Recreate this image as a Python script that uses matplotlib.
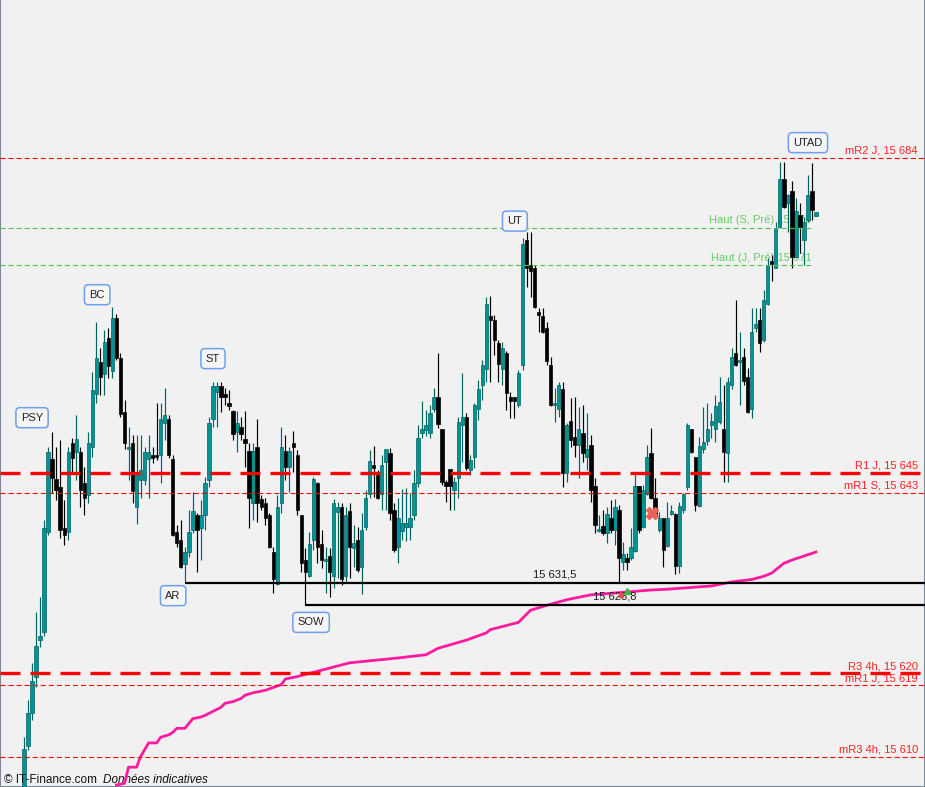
import matplotlib
matplotlib.use("Agg")
import matplotlib.pyplot as plt
import matplotlib.transforms as mtransforms
import numpy as np

# Bougies (OHLC), une par période, de gauche à droite
opens = [
    15604.7, 15611.3, 15615.4, 15619.8, 15624.4, 15625.4, 15637.8, 15646.8, 15644.3, 15643.3,
    15638.3, 15637.8, 15648.8, 15647.7, 15647.7, 15643.8, 15642.3, 15648.3, 15654.8, 15658.8,
    15657.3, 15661.8, 15657.7, 15664.2, 15659.3, 15652.6, 15648.0, 15648.8, 15640.9, 15644.2,
    15644.2, 15646.8, 15647.3, 15647.3, 15647.3, 15651.2, 15651.7, 15646.8, 15637.8, 15636.8,
    15633.8, 15635.3, 15638.0, 15639.9, 15638.3, 15639.9, 15644.2, 15651.7, 15655.1, 15655.8,
    15654.8, 15653.7, 15652.7, 15650.1, 15650.8, 15649.3, 15647.8, 15641.4, 15648.3, 15641.9,
    15641.4, 15639.9, 15635.3, 15631.3, 15641.4, 15647.8, 15645.8, 15648.8, 15647.3, 15639.9,
    15634.3, 15632.3, 15636.8, 15643.8, 15636.3, 15634.2, 15634.8, 15632.3, 15640.2, 15640.9,
    15632.3, 15640.4, 15635.8, 15636.8, 15633.4, 15638.4, 15642.5, 15646.0, 15644.8, 15642.5,
    15646.4, 15647.5, 15640.5, 15635.9, 15637.9, 15638.4, 15638.4, 15639.9, 15643.8, 15650.0,
    15650.4, 15650.0, 15653.0, 15654.5, 15650.5, 15644.0, 15645.6, 15643.0, 15644.4, 15651.0,
    15652.0, 15645.4, 15647.0, 15653.0, 15655.9, 15657.9, 15664.5, 15664.0, 15661.1, 15657.9,
    15659.9, 15654.5, 15654.4, 15653.5, 15658.4, 15673.9, 15670.8, 15670.4, 15665.0, 15664.5,
    15663.0, 15658.4, 15653.5, 15653.0, 15655.4, 15645.1, 15651.5, 15649.5, 15648.5, 15650.0,
    15647.0, 15648.5, 15643.5, 15637.9, 15638.5, 15637.6, 15639.5, 15638.0, 15640.5, 15634.1,
    15634.6, 15634.6, 15635.4, 15643.5, 15638.4, 15642.5, 15647.5, 15642.0, 15638.0, 15639.5,
    15636.0, 15640.0, 15640.0, 15633.6, 15640.5, 15643.3, 15650.5, 15647.0, 15641.0, 15648.0,
    15649.0, 15651.0, 15650.5, 15651.4, 15650.5, 15647.5, 15655.9, 15659.9, 15658.8, 15659.4,
    15656.9, 15653.0, 15663.0, 15664.0, 15661.5, 15665.9, 15671.3, 15670.4, 15675.5, 15681.4,
    15678.4, 15679.9, 15671.8, 15676.9, 15673.9, 15676.3, 15679.9, 15676.8]
highs = [
    15612.4, 15617.0, 15621.6, 15627.9, 15629.7, 15639.3, 15648.3, 15650.1, 15648.3, 15649.1,
    15641.7, 15648.3, 15649.4, 15652.2, 15648.3, 15645.8, 15650.1, 15657.6, 15663.7, 15660.5,
    15662.7, 15663.0, 15665.6, 15664.7, 15659.9, 15654.1, 15650.8, 15649.8, 15649.8, 15649.8,
    15648.3, 15649.8, 15648.3, 15653.7, 15653.7, 15655.6, 15652.2, 15647.3, 15638.6, 15639.3,
    15635.9, 15640.5, 15642.7, 15640.1, 15641.7, 15644.6, 15652.0, 15656.3, 15656.3, 15656.3,
    15655.6, 15655.3, 15652.9, 15652.7, 15652.0, 15652.7, 15648.8, 15648.8, 15651.7, 15642.3,
    15642.0, 15640.1, 15635.9, 15642.3, 15650.8, 15649.8, 15648.3, 15650.3, 15647.9, 15639.9,
    15635.8, 15637.8, 15644.6, 15643.9, 15638.0, 15635.9, 15635.8, 15641.9, 15641.5, 15641.4,
    15640.9, 15641.4, 15638.6, 15638.4, 15640.1, 15643.0, 15647.9, 15648.4, 15645.4, 15647.3,
    15648.0, 15648.2, 15641.4, 15642.0, 15643.1, 15643.2, 15642.6, 15645.4, 15651.0, 15654.0,
    15652.9, 15653.5, 15655.6, 15659.9, 15650.5, 15644.2, 15645.6, 15644.6, 15652.0, 15657.4,
    15652.5, 15647.3, 15653.7, 15656.6, 15659.0, 15666.8, 15666.9, 15664.6, 15661.5, 15661.2,
    15660.1, 15655.1, 15654.5, 15657.8, 15674.1, 15674.9, 15674.9, 15670.8, 15665.5, 15665.5,
    15663.7, 15659.4, 15655.6, 15656.3, 15656.3, 15651.2, 15654.3, 15654.5, 15653.2, 15653.5,
    15652.5, 15649.8, 15644.4, 15639.9, 15640.5, 15640.9, 15641.7, 15641.9, 15641.1, 15636.5,
    15635.2, 15638.3, 15645.1, 15643.5, 15643.6, 15648.5, 15650.6, 15644.4, 15640.2, 15639.5,
    15641.5, 15641.1, 15640.1, 15641.5, 15642.6, 15651.2, 15650.5, 15647.0, 15649.5, 15653.2,
    15653.7, 15652.5, 15654.7, 15656.9, 15655.9, 15656.9, 15660.5, 15666.4, 15662.5, 15660.5,
    15658.0, 15665.5, 15665.5, 15665.5, 15667.7, 15671.6, 15672.0, 15676.1, 15683.5, 15683.5,
    15679.5, 15681.2, 15679.0, 15678.4, 15676.7, 15681.9, 15683.4, 15677.3]
lows = [
    15604.0, 15610.8, 15614.5, 15618.6, 15623.6, 15624.9, 15637.4, 15642.6, 15641.7, 15637.0,
    15636.2, 15636.8, 15645.1, 15644.2, 15640.9, 15639.9, 15641.4, 15647.0, 15653.7, 15654.7,
    15654.7, 15656.8, 15656.8, 15659.0, 15652.0, 15648.0, 15644.2, 15641.4, 15638.8, 15642.0,
    15643.6, 15642.0, 15646.3, 15646.7, 15643.8, 15649.1, 15646.9, 15637.3, 15635.9, 15633.3,
    15631.5, 15634.7, 15637.6, 15632.8, 15634.3, 15638.0, 15643.3, 15650.8, 15650.8, 15652.6,
    15653.5, 15652.9, 15649.1, 15647.7, 15649.1, 15645.8, 15638.3, 15639.3, 15639.0, 15640.5,
    15638.6, 15635.8, 15630.2, 15631.2, 15640.1, 15644.2, 15642.7, 15645.2, 15639.9, 15632.8,
    15628.8, 15632.2, 15635.5, 15633.9, 15633.3, 15630.2, 15629.7, 15630.9, 15632.1, 15631.2,
    15631.5, 15632.1, 15633.4, 15632.8, 15630.1, 15638.0, 15642.0, 15642.1, 15641.9, 15640.5,
    15640.5, 15639.3, 15635.3, 15633.9, 15636.8, 15636.7, 15636.8, 15639.3, 15643.3, 15649.4,
    15649.6, 15649.4, 15652.6, 15650.6, 15643.6, 15641.5, 15640.5, 15640.5, 15642.0, 15646.4,
    15645.4, 15644.8, 15645.7, 15651.6, 15654.1, 15656.3, 15656.3, 15659.6, 15656.3, 15655.9,
    15652.9, 15651.9, 15651.9, 15653.2, 15657.8, 15668.1, 15666.8, 15665.5, 15662.5, 15662.4,
    15658.4, 15653.3, 15651.4, 15652.0, 15643.3, 15644.0, 15648.3, 15647.0, 15644.4, 15646.4,
    15645.4, 15641.5, 15637.6, 15637.8, 15637.4, 15636.4, 15637.6, 15636.2, 15631.6, 15633.1,
    15633.1, 15634.3, 15635.3, 15637.6, 15638.3, 15642.3, 15641.9, 15639.5, 15637.8, 15633.4,
    15635.9, 15639.9, 15632.6, 15632.7, 15640.1, 15643.0, 15647.5, 15640.4, 15640.9, 15647.5,
    15648.5, 15649.4, 15648.9, 15651.1, 15644.0, 15644.0, 15655.4, 15658.3, 15653.5, 15655.9,
    15652.5, 15651.9, 15662.5, 15660.0, 15661.3, 15665.8, 15668.8, 15670.4, 15675.3, 15677.8,
    15674.9, 15670.4, 15671.6, 15672.3, 15670.8, 15676.1, 15676.3, 15676.8]
closes = [
    15611.0, 15615.4, 15619.4, 15623.7, 15624.9, 15638.3, 15647.7, 15644.4, 15643.0, 15638.0,
    15637.4, 15647.7, 15646.9, 15649.3, 15643.0, 15642.0, 15648.8, 15655.3, 15659.3, 15656.9,
    15661.3, 15658.3, 15664.2, 15659.3, 15652.4, 15648.8, 15648.3, 15642.8, 15645.2, 15645.4,
    15647.7, 15647.7, 15646.9, 15647.0, 15651.7, 15652.2, 15647.3, 15637.4, 15636.4, 15633.4,
    15635.3, 15637.8, 15640.4, 15638.0, 15639.9, 15643.8, 15651.2, 15655.8, 15655.8, 15654.5,
    15654.5, 15653.3, 15649.9, 15651.2, 15649.9, 15648.8, 15642.0, 15647.8, 15641.4, 15640.9,
    15639.5, 15635.9, 15632.0, 15640.9, 15648.3, 15645.8, 15647.8, 15648.3, 15640.5, 15633.9,
    15632.8, 15636.3, 15644.3, 15635.9, 15634.3, 15634.3, 15632.8, 15641.4, 15640.9, 15632.0,
    15639.9, 15635.9, 15636.4, 15633.1, 15638.0, 15642.0, 15646.5, 15645.7, 15642.0, 15646.0,
    15648.0, 15640.1, 15635.5, 15639.5, 15638.9, 15638.9, 15639.5, 15643.8, 15649.4, 15650.5,
    15651.0, 15652.5, 15654.5, 15651.1, 15644.0, 15643.5, 15643.5, 15644.0, 15651.4, 15652.0,
    15645.7, 15646.7, 15653.5, 15655.4, 15658.4, 15665.9, 15664.0, 15661.5, 15658.5, 15660.5,
    15654.9, 15654.0, 15654.0, 15657.4, 15673.4, 15670.4, 15670.0, 15665.6, 15664.6, 15662.5,
    15658.9, 15653.5, 15653.6, 15655.9, 15645.1, 15651.0, 15649.1, 15648.5, 15650.5, 15647.5,
    15648.0, 15643.0, 15638.6, 15638.1, 15637.6, 15640.0, 15638.0, 15640.9, 15634.6, 15635.1,
    15634.1, 15635.9, 15643.5, 15638.0, 15643.0, 15647.0, 15642.0, 15639.6, 15639.5, 15635.5,
    15639.5, 15640.4, 15633.6, 15641.0, 15642.5, 15651.0, 15647.7, 15641.1, 15648.4, 15648.9,
    15650.5, 15651.5, 15653.4, 15653.8, 15647.7, 15656.3, 15659.4, 15658.4, 15658.9, 15656.4,
    15652.6, 15662.5, 15663.5, 15661.1, 15666.4, 15670.8, 15670.9, 15675.3, 15681.4, 15677.9,
    15679.4, 15671.8, 15677.4, 15675.5, 15676.1, 15679.4, 15677.6, 15677.3]

# Moyenne mobile (rose) : position en bougies, valeur
ma_idx = [23, 25, 26, 28, 29, 31, 33, 34, 36, 37, 38, 40, 42, 44, 45, 47, 49, 50, 52, 54,
          55, 57, 60, 64, 65, 68, 71, 81, 93, 100, 103, 110, 115, 116, 123, 126, 130, 135, 141, 146,
          156, 160, 171, 176, 181, 184, 186, 189, 191, 197]
ma_val = [15606.5, 15606.7, 15608.7, 15608.7, 15610.0, 15611.7, 15611.7, 15612.4, 15612.7, 15613.0,
          15613.5, 15613.5, 15614.7, 15614.9, 15615.1, 15615.6, 15616.1, 15616.6, 15616.8, 15617.2,
          15617.6, 15617.9, 15618.2, 15618.9, 15619.6, 15619.9, 15620.3, 15621.6, 15622.2, 15622.6,
          15623.4, 15624.4, 15625.3, 15625.7, 15626.6, 15628.1, 15628.7, 15629.4, 15630.0, 15630.2,
          15630.6, 15630.7, 15631.1, 15631.6, 15631.9, 15632.3, 15632.7, 15633.9, 15634.3, 15635.3]

# Pivots
thick_levels = [15645.1, 15620.3]
thick_names = ["R1 J, 15 645", "R3 4h, 15 620"]
thin_levels = [15684.0, 15642.6, 15618.8, 15610.0]
thin_names = ["mR2 J, 15 684", "mR1 S, 15 643", "mR1 J, 15 619", "mR3 4h, 15 610"]
high_levels = [15675.4, 15670.8, 15606.0]
high_names = ["Haut (S, Pré) 15 676", "Haut (J, Pré) 15 671", "Haut (M, Pré) 15 606"]

# Niveaux tracés à la main (AR / SOW)
zone_levels = [15631.5, 15628.8]
zone_start = [40, 70]
zone_names = ["15 631,5", "15 628,8"]
zone_label_x = [132, 147]

# Étiquettes Wyckoff
wy_names = ["PSY", "BC", "ST", "AR", "SOW", "UT", "UTAD"]
wy_x = [2.0, 18.2, 47.0, 37.1, 71.4, 122.1, 195.0]
wy_y = [15651.9, 15667.1, 15659.2, 15629.9, 15626.6, 15676.2, 15685.9]

plt.rcParams["lines.scale_dashes"] = False
plt.rcParams["font.family"] = ["Liberation Sans", "DejaVu Sans"]

fig = plt.figure(figsize=(9.25, 7.87), dpi=100)
ax = fig.add_axes([0, 0, 1, 1])
ax.set_facecolor("#f1f1f1")
fig.patch.set_facecolor("#f1f1f1")

o = np.array(opens)
h = np.array(highs)
l = np.array(lows)
c = np.array(closes)
x = np.arange(len(o))
up = c >= o

teal = "#009393"
teal_dark = "#006464"

# Mèches
ax.vlines(x[up], l[up], h[up], colors=teal_dark, linewidth=0.85, zorder=2)
ax.vlines(x[~up], l[~up], h[~up], colors="black", linewidth=0.85, zorder=2)

# Corps
body_lo = np.minimum(o, c)
body_h = np.maximum(np.abs(c - o), 0.2)
ax.bar(x[up], body_h[up], bottom=body_lo[up], width=0.84, color=teal,
       edgecolor=teal_dark, linewidth=0.5, zorder=3)
ax.bar(x[~up], body_h[~up], bottom=body_lo[~up], width=0.84, color="black",
       edgecolor="black", linewidth=0.5, zorder=3)

# Moyenne mobile
ax.plot(ma_idx, ma_val, color="#ff1aa0", linewidth=2.0, zorder=4)

x_left = -24 / 4.02
x_right = 197 + 109 / 4.02
ax.set_xlim(x_left, x_right)
ax.set_ylim(15606.25, 15703.53)

blend = mtransforms.blended_transform_factory(ax.transAxes, ax.transData)

# Lignes rouges épaisses
for lev, name in zip(thick_levels, thick_names):
    ax.axhline(lev, color="#ff0000", linewidth=2.4, linestyle=(0, (14.4, 7.2)), zorder=5)
    ax.annotate(name, xy=(0.9924, lev), xycoords=blend, xytext=(0, 1.5),
                textcoords="offset points", ha="right", va="bottom",
                fontsize=8, color="#ff2020", zorder=6)

# Lignes rouges fines
for lev, name in zip(thin_levels, thin_names):
    ax.axhline(lev, color="#ff0000", linewidth=0.8, linestyle=(0, (3.6, 2.2)), zorder=5)
    ax.annotate(name, xy=(0.9924, lev), xycoords=blend, xytext=(0, 1.5),
                textcoords="offset points", ha="right", va="bottom",
                fontsize=8, color="#ff2020", zorder=6)

# Plus hauts précédents (vert)
for lev, name in zip(high_levels, high_names):
    ax.hlines(lev, x_left, 196, color="#4cc44c", linewidth=0.8,
              linestyle=(0, (3.6, 2.2)), zorder=5)
    ax.annotate(name, xy=(195.8, lev), xytext=(0, 1.5), textcoords="offset points",
                ha="right", va="bottom", fontsize=8, color="#66cc66", zorder=1)

# Zones AR / SOW
for lev, start, name, lx in zip(zone_levels, zone_start, zone_names, zone_label_x):
    ax.hlines(lev, start, x_right, color="black", linewidth=1.6, zorder=5)
    ax.annotate(name, xy=(lx, lev), xytext=(0, 2), textcoords="offset points",
                ha="center", va="bottom", fontsize=8, color="#1a1a1a", zorder=6)

# Petits signaux
ax.plot([150], [15630.5], marker="^", markersize=4, color="#3cb83c", zorder=6)
ax.plot([148.5], [15630.0], marker="s", markersize=3, color="#e05050", zorder=6)
ax.plot([156.2], [15640.1], marker="X", markersize=9, color="#e8625c", zorder=6)

# Étiquettes Wyckoff
for name, wx, wy in zip(wy_names, wy_x, wy_y):
    ax.text(wx, wy, name, ha="center", va="center", fontsize=8, color="#222222",
            zorder=7,
            bbox=dict(boxstyle="round,pad=0.45,rounding_size=0.35", fc="#f5f5f5",
                      ec="#6f9ff0", lw=1.1))

ax.set_xticks([])
ax.set_yticks([])
for side in ["left", "bottom", "right"]:
    ax.spines[side].set_color("#7b8a99")
    ax.spines[side].set_linewidth(1.5)
ax.spines["top"].set_visible(False)

# Mention en bas à gauche
src = fig.text(4 / 925, 1 - 780 / 787, "© IT-Finance.com", fontsize=8.5, va="center",
               color="#111111")
fig.canvas.draw()
ax.annotate("Données indicatives", xy=(1, 0.5), xycoords=src, xytext=(4, 0),
            textcoords="offset points", va="center", ha="left", fontsize=8.5,
            style="italic", color="#111111", annotation_clip=False)

plt.savefig("out.png", dpi=100, facecolor=fig.get_facecolor())
